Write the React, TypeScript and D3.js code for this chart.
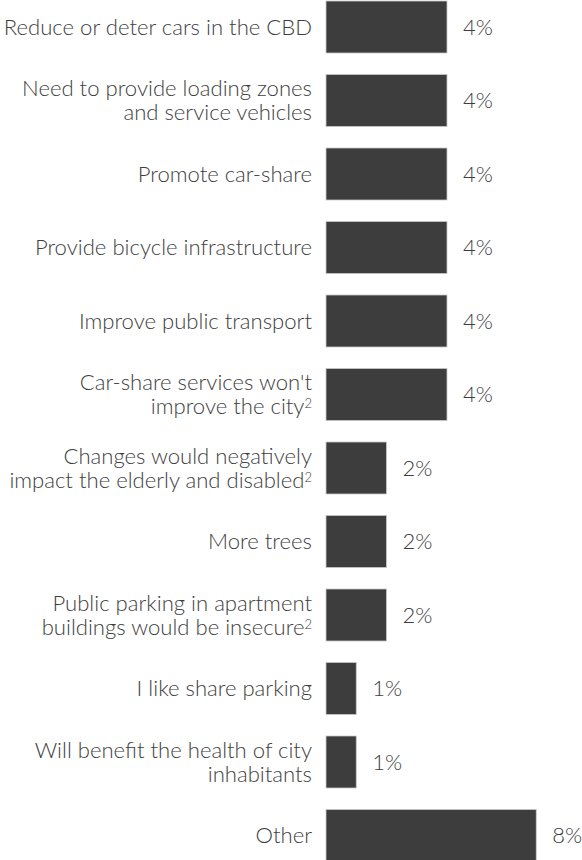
import React from "react";
import * as d3 from "d3";

const categories: string[][] = [
  ["Reduce or deter cars in the CBD"],
  ["Need to provide loading zones", "and service vehicles"],
  ["Promote car-share"],
  ["Provide bicycle infrastructure"],
  ["Improve public transport"],
  ["Car-share services won't", "improve the city²"],
  ["Changes would negatively", "impact the elderly and disabled²"],
  ["More trees"],
  ["Public parking in apartment", "buildings would be insecure²"],
  ["I like share parking"],
  ["Will benefit the health of city", "inhabitants"],
  ["Other"],
];
const values: number[] = [4, 4, 4, 4, 4, 4, 2, 2, 2, 1, 1, 6.95];
const valueLabels: string[] = ["4%", "4%", "4%", "4%", "4%", "4%", "2%", "2%", "2%", "1%", "1%", "8%"];

const W = 582;
const H = 860;
const FONT = "Lato, 'Open Sans', sans-serif";
const TEXT = "#3e3e3e";
const BAR = "#3d3d3d";

function renderLine(line: string, x: number, y: number, key: number) {
  if (line.endsWith("²")) {
    const base = line.slice(0, -1);
    return (
      <tspan key={key} x={x} y={y} dy="0.35em">
        {base}
        <tspan fontSize={13} baselineShift="6">2</tspan>
      </tspan>
    );
  }
  return (
    <tspan key={key} x={x} y={y} dy="0.35em">
      {line}
    </tspan>
  );
}

export default function App() {
  const keys = categories.map((c) => c.join(" "));
  const y = d3
    .scaleBand<string>()
    .domain(keys)
    .range([1, 861.5])
    .paddingInner(0.2925)
    .paddingOuter(0);
  const x = d3.scaleLinear().domain([0, 4]).range([326, 447]);
  const labelX = 312;
  const lineGap = 24;

  return (
    <svg
      width={W}
      height={H}
      style={{ position: "fixed", left: 0, top: 0, background: "#fff" }}
      fontFamily={FONT}
      fontWeight={300}
    >
      {keys.map((k, i) => {
        const top = y(k)!;
        const bh = y.bandwidth();
        const cy = top + bh / 2;
        const lines = categories[i];
        const n = lines.length;
        return (
          <g key={k}>
            <rect
              x={x(0)}
              y={top}
              width={x(values[i]) - x(0)}
              height={bh}
              fill={BAR}
              stroke="#c8c8c8"
              strokeWidth={0.8}
            />
            <text textAnchor="end" fontSize={22.1} fill={TEXT}>
              {lines.map((ln, j) =>
                renderLine(ln, labelX, cy + (j - (n - 1) / 2) * lineGap, j)
              )}
            </text>
            <text
              x={x(values[i]) + 16}
              y={cy}
              dy="0.36em"
              fontSize={22}
              fill={TEXT}
            >
              {valueLabels[i]}
            </text>
          </g>
        );
      })}
    </svg>
  );
}
